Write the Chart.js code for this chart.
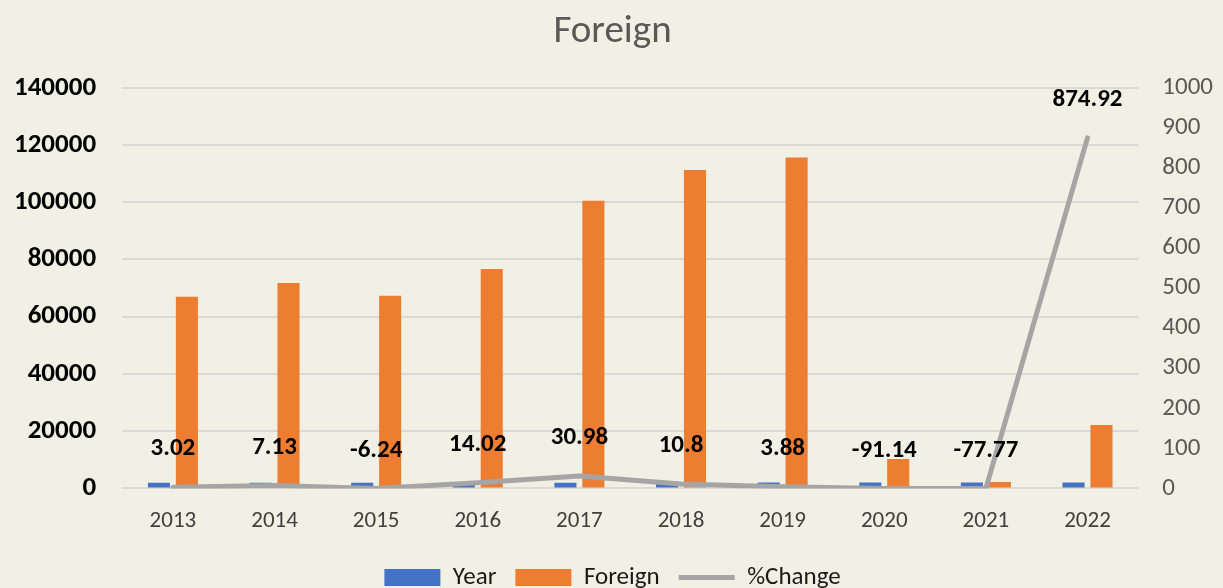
<!DOCTYPE html>
<html>
<head>
<meta charset="utf-8">
<script src="https://cdn.jsdelivr.net/npm/chart.js@4"></script>
<style>
  html, body { margin: 0; padding: 0; background: #f0f0e4; }
  canvas { display: block; }
</style>
</head>
<body>
<canvas id="chart" width="1223" height="588"></canvas>
<script>
const years = ['2013', '2014', '2015', '2016', '2017', '2018', '2019', '2020', '2021', '2022'];
const yearValues = [2013, 2014, 2015, 2016, 2017, 2018, 2019, 2020, 2021, 2022];
const foreign = [67000, 71800, 67300, 76700, 100500, 111300, 115600, 10250, 2280, 22200];
const pctChange = [3.02, 7.13, -6.24, 14.02, 30.98, 10.8, 3.88, -91.14, -77.77, 874.92];
const leftTicks = [0, 20000, 40000, 60000, 80000, 100000, 120000, 140000];
const rightTicks = [0, 100, 200, 300, 400, 500, 600, 700, 800, 900, 1000];

const FONT = 'Carlito, Lato, "Open Sans", sans-serif';

// bold value labels above the %Change line
const pctLabels = {
    id: 'pctLabels',
    afterDatasetsDraw(chart) {
        const ctx = chart.ctx;
        const x = chart.scales.x;
        const y2 = chart.scales.y2;
        ctx.save();
        ctx.font = 'bold 25px ' + FONT;
        ctx.fillStyle = '#000';
        ctx.textAlign = 'center';
        ctx.textBaseline = 'middle';
        pctChange.forEach((v, i) => {
            const py = y2.getPixelForValue(Math.max(v, 0));
            ctx.fillText(String(v), x.getPixelForValue(i), py - 38);
        });
        ctx.restore();
    }
};

new Chart(document.getElementById('chart'), {
    type: 'bar',
    data: {
        labels: years,
        datasets: [
            {
                type: 'line',
                label: '%Change',
                // values below the axis minimum sit on the axis, like the original
                data: pctChange.map(v => Math.max(v, 0)),
                yAxisID: 'y2',
                borderColor: '#a5a5a5',
                backgroundColor: '#a5a5a5',
                borderWidth: 5,
                pointRadius: 0,
                pointStyle: 'line',
                borderCapStyle: 'round',
                borderJoinStyle: 'round',
                tension: 0,
                order: 0
            },
            {
                label: 'Year',
                data: yearValues,
                yAxisID: 'y',
                backgroundColor: '#4472c4',
                pointStyle: 'rect',
                categoryPercentage: 0.55,
                barPercentage: 0.79,
                order: 1
            },
            {
                label: 'Foreign',
                data: foreign,
                yAxisID: 'y',
                backgroundColor: '#ed7d31',
                pointStyle: 'rect',
                categoryPercentage: 0.55,
                barPercentage: 0.79,
                order: 1
            }
        ]
    },
    options: {
        responsive: false,
        animation: false,
        layout: { padding: { left: -12, right: -14, top: 0, bottom: -12 } },
        plugins: {
            title: {
                display: true,
                text: 'Foreign',
                color: '#595959',
                font: { family: FONT, size: 39, weight: 'normal' },
                padding: { top: 9, bottom: 32 }
            },
            legend: {
                position: 'bottom',
                labels: {
                    sort: (a, b) => {
                        const ord = { 'Year': 0, 'Foreign': 1, '%Change': 2 };
                        return ord[a.text] - ord[b.text];
                    },
                    usePointStyle: true,
                    pointStyleWidth: 56,
                    boxHeight: 17,
                    color: '#1a1a1a',
                    font: { family: FONT, size: 25 },
                    padding: 19
                }
            },
            tooltip: { enabled: false }
        },
        scales: {
            x: {
                grid: { display: false },
                border: { display: false },
                ticks: { color: '#404040', font: { family: FONT, size: 23 }, padding: 11 }
            },
            y: {
                position: 'left',
                min: 0,
                max: 140000,
                afterBuildTicks: axis => { axis.ticks = leftTicks.map(v => ({ value: v })); },
                grid: { color: '#d9d9d9', lineWidth: 2, drawTicks: false },
                border: { display: false },
                ticks: {
                    color: '#000',
                    font: { family: FONT, size: 27, weight: 'bold' },
                    padding: 26,
                    callback: v => String(v)
                }
            },
            y2: {
                position: 'right',
                min: 0,
                max: 1000,
                afterBuildTicks: axis => { axis.ticks = rightTicks.map(v => ({ value: v })); },
                grid: { drawOnChartArea: false, drawTicks: false },
                border: { display: false },
                ticks: {
                    color: '#595959',
                    font: { family: FONT, size: 25 },
                    padding: 24,
                    callback: v => String(v)
                }
            }
        }
    },
    plugins: [pctLabels]
});
</script>
</body>
</html>
